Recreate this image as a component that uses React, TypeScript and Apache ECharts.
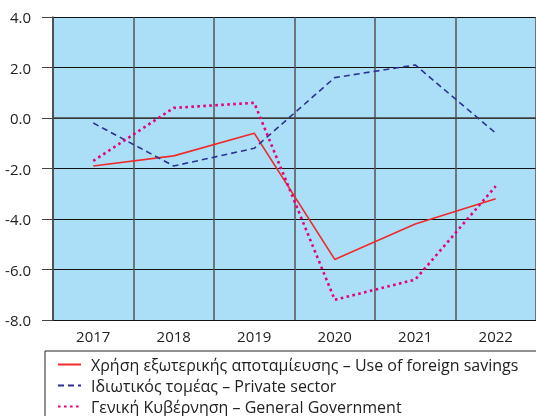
import React, { useEffect, useRef } from "react";
import * as echarts from "echarts";

const years = ["2017", "2018", "2019", "2020", "2021", "2022"];
const foreignSavings = [-1.9, -1.5, -0.6, -5.6, -4.2, -3.2];
const privateSector = [-0.2, -1.9, -1.2, 1.6, 2.1, -0.6];
const generalGov = [-1.7, 0.4, 0.6, -7.2, -6.4, -2.7];
const seriesNames = [
  "Χρήση εξωτερικής αποταμίευσης – Use of foreign savings",
  "Ιδιωτικός τομέας – Private sector",
  "Γενική Κυβέρνηση – General Government",
];

const FONT = "'Open Sans', 'Noto Sans', sans-serif";

export default function App() {
  const ref = useRef<HTMLDivElement>(null);
  useEffect(() => {
    const chart = echarts.init(ref.current!, null, { renderer: "svg" });
    chart.setOption({
      animation: false,
      textStyle: { fontFamily: FONT },
      grid: { left: 53, top: 17, width: 491, height: 303, backgroundColor: "#abdff8", show: true, borderWidth: 0 },
      xAxis: {
        type: "category",
        data: years,
        boundaryGap: true,
        axisLine: { show: true, lineStyle: { color: "#444", width: 1.5 } },
        axisTick: { show: false },
        axisLabel: { color: "#222", fontSize: 15, margin: 8, fontFamily: FONT },
        splitLine: { show: true, lineStyle: { color: "#555", width: 1.5 } },
      },
      yAxis: {
        type: "value",
        min: -8,
        max: 4,
        interval: 2,
        axisLine: { show: true, lineStyle: { color: "#444", width: 1.5 } },
        axisTick: { show: true, length: 11, lineStyle: { color: "#444", width: 1 } },
        axisLabel: {
          color: "#222",
          fontSize: 15,
          margin: 22,
          fontFamily: FONT,
          formatter: (v: number) => v.toFixed(1),
        },
        splitLine: { show: true, lineStyle: { color: "#111", width: 1 } },
      },
      legend: {
        orient: "vertical",
        left: 57,
        top: 356,
        itemWidth: 23,
        itemHeight: 10,
        itemGap: 4,
        padding: 0,
        itemStyle: { opacity: 0 },
        textStyle: { fontSize: 16, color: "#222", fontFamily: FONT, lineHeight: 17, padding: [0, 0, 0, 5] },
        data: seriesNames,
      },
      graphic: [
        {
          type: "rect",
          z: -1,
          shape: { x: 45, y: 351, width: 520, height: 100 },
          style: { fill: "#fff", stroke: "#222", lineWidth: 1 },
        },
      ],
      series: [
        {
          name: seriesNames[0],
          type: "line",
          data: foreignSavings,
          symbol: "none",
          lineStyle: { color: "#ee2a2a", width: 1.6, type: "solid" },
          itemStyle: { color: "#ee2a2a" },
        },
        {
          name: seriesNames[1],
          type: "line",
          data: privateSector,
          symbol: "none",
          lineStyle: { color: "#2e3192", width: 1.6, type: [6, 4] },
          itemStyle: { color: "#2e3192" },
        },
        {
          name: seriesNames[2],
          type: "line",
          data: generalGov,
          symbol: "none",
          lineStyle: { color: "#e6007e", width: 2.6, type: [2.6, 3.4] },
          itemStyle: { color: "#e6007e" },
        },
      ],
    });
    return () => chart.dispose();
  }, []);
  return <div ref={ref} style={{ position: "fixed", left: 0, top: 0, width: 536, height: 416 }} />;
}
